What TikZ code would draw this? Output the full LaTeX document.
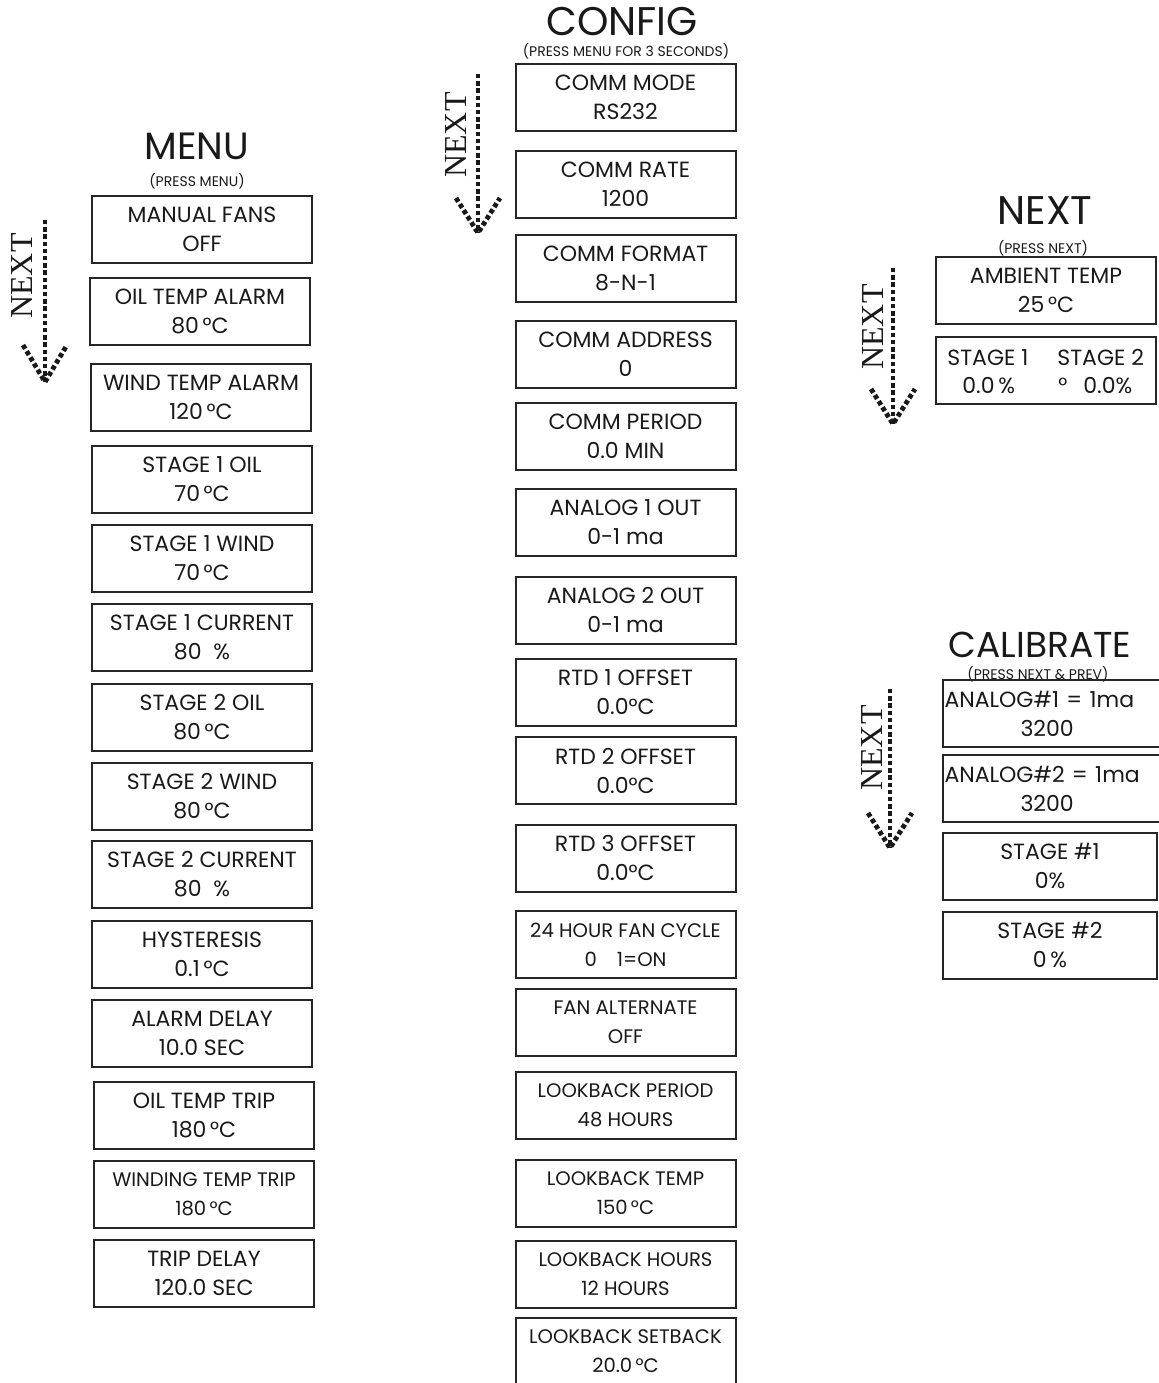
\documentclass[tikz,border=0pt]{standalone}
\usepackage{fontspec}
\setmainfont{Poppins}
\newfontfamily\labelfont{Liberation Serif}
\begin{document}
\begin{tikzpicture}[x=0.5pt, y=-0.5pt,
  menubox/.style={draw=black!85, line width=1pt, minimum width=110pt, minimum height=33.5pt,
    inner sep=0pt, align=center, text=black!90, font=\fontsize{11}{14.5}\selectfont},
  smallbox/.style={menubox, font=\fontsize{9.8}{14.5}\selectfont},
  boxtext/.style={inner sep=0pt, text=black!90, font=\fontsize{11}{14.5}\selectfont},
  title/.style={inner sep=0pt, text=black!90, font=\fontsize{20}{20}\selectfont},
  subtitle/.style={inner sep=0pt, text=black!90, font=\fontsize{7}{7}\selectfont},
  nextlabel/.style={rotate=90, inner sep=0pt, text=black!90, font=\labelfont\fontsize{16}{16}\selectfont},
  dotline/.style={black!90, line width=2.4pt, dash pattern=on 2.2pt off 1.4pt}
]
  \useasboundingbox (0,0) rectangle (1158,1383);

  % 1. MENU
  \node[title, font=\fontsize{19}{19}\selectfont] (menuT) at (197,146) {MENU};
  \node[subtitle] (menuS) at (197,181) {(PRESS MENU)};
  \node[menubox] (m1)  at (202,229.5)  {MANUAL FANS\\OFF};
  \node[menubox] (m2)  at (200,311)    {OIL TEMP ALARM\\80\,°C};
  \node[menubox] (m3)  at (201,397.5)  {WIND TEMP ALARM\\120\,°C};
  \node[menubox] (m4)  at (202,479.5)  {STAGE 1 OIL\\70\,°C};
  \node[menubox] (m5)  at (202,558.5)  {STAGE 1 WIND\\70\,°C};
  \node[menubox] (m6)  at (202,637.5)  {STAGE 1 CURRENT\\80~~\%};
  \node[menubox] (m7)  at (202,717)    {STAGE 2 OIL\\80\,°C};
  \node[menubox] (m8)  at (202,796)    {STAGE 2 WIND\\80\,°C};
  \node[menubox] (m9)  at (202,874.5)  {STAGE 2 CURRENT\\80~~\%};
  \node[menubox] (m10) at (202,954.5)  {HYSTERESIS\\0.1\,°C};
  \node[menubox] (m11) at (202,1033)   {ALARM DELAY\\10.0 SEC};
  \node[menubox] (m12) at (204,1115)   {OIL TEMP TRIP\\180\,°C};
  \node[smallbox] (m13) at (204,1194.5) {WINDING TEMP TRIP\\180\,°C};
  \node[menubox] (m14) at (204,1273.5) {TRIP DELAY\\120.0 SEC};

  % 2. CONFIG
  \node[title] (confT) at (622,22) {CONFIG};
  \node[subtitle] (confS) at (626,51) {(PRESS MENU FOR 3 SECONDS)};
  \node[menubox] (c1)  at (625.5,97)     {COMM MODE\\RS232};
  \node[menubox] (c2)  at (625.5,184)    {COMM RATE\\1200};
  \node[menubox] (c3)  at (625.5,268.5)  {COMM FORMAT\\8-N-1};
  \node[menubox] (c4)  at (625.5,354)    {COMM ADDRESS\\0};
  \node[menubox] (c5)  at (625.5,436)    {COMM PERIOD\\0.0 MIN};
  \node[menubox] (c6)  at (625.5,522)    {ANALOG 1 OUT\\0-1 ma};
  \node[menubox] (c7)  at (625.5,610)    {ANALOG 2 OUT\\0-1 ma};
  \node[menubox] (c8)  at (625.5,692)    {RTD 1 OFFSET\\0.0°C};
  \node[menubox] (c9)  at (625.5,770.5)  {RTD 2 OFFSET\\0.0°C};
  \node[menubox] (c10) at (625.5,858)    {RTD 3 OFFSET\\0.0°C};
  \node[smallbox] (c11) at (625.5,944.5)  {24 HOUR FAN CYCLE\\0\hspace{10pt}1=ON};
  \node[smallbox] (c12) at (625.5,1022.5) {FAN ALTERNATE\\OFF};
  \node[smallbox] (c13) at (625.5,1105.5) {LOOKBACK PERIOD\\48 HOURS};
  \node[smallbox] (c14) at (625.5,1193.5) {LOOKBACK TEMP\\150\,°C};
  \node[smallbox] (c15) at (625.5,1274)   {LOOKBACK HOURS\\12 HOURS};
  \node[smallbox] (c16) at (625.5,1351.5) {LOOKBACK SETBACK\\20.0\,°C};

  % 3. NEXT
  \node[title] (nextT) at (1045,211) {NEXT};
  \node[subtitle] (nextS) at (1043,248) {(PRESS NEXT)};
  \node[menubox] (n1) at (1046,290.5) {AMBIENT TEMP\\25\,°C};
  \node[menubox] (n2) at (1046,370.5) {};
  \node[boxtext, anchor=base west] (n2a) at (947,365)  {STAGE 1};
  \node[boxtext, anchor=base west] (n2b) at (1057,365) {STAGE 2};
  \node[boxtext, anchor=base west] (n2c) at (962,393)  {0.0\,\%};
  \node[boxtext, anchor=base west] (n2d) at (1058,393) {°\hspace{8pt}0.0\%};

  % 4. CALIBRATE
  \node[title, font=\fontsize{18}{18}\selectfont] (calT) at (1040,645) {CALIBRATE};
  \node[subtitle] (calS) at (1038,674) {(PRESS NEXT \& PREV)};
  \node[menubox, align=left, text width=113pt, inner xsep=1pt] (k1) at (1057.5,713.5) {ANALOG\#1 = 1ma\\\hspace*{38pt}3200};
  \node[menubox, align=left, text width=113pt, inner xsep=1pt] (k2) at (1057.5,788.5) {ANALOG\#2 = 1ma\\\hspace*{38pt}3200};
  \node[menubox, minimum width=107pt] (k3) at (1050,866) {STAGE \#1\\0\%};
  \node[menubox, minimum width=107pt] (k4) at (1050,945) {STAGE \#2\\0\,\%};

  % 5. NEXT arrows
  \node[nextlabel] (lblM) at (22,276)  {NEXT};
  \coordinate (mTop) at (45,220);
  \coordinate (mTip) at (45,382);
  \draw[dotline] (mTop) -- (mTip);
  \draw[dotline] (23,345) -- (mTip) -- (67,345);

  \node[nextlabel] (lblC) at (456,135) {NEXT};
  \coordinate (cTop) at (478,74);
  \coordinate (cTip) at (478,233);
  \draw[dotline] (cTop) -- (cTip);
  \draw[dotline] (456,198) -- (cTip) -- (500,198);

  \node[nextlabel] (lblN) at (873,327) {NEXT};
  \coordinate (nTop) at (893,268);
  \coordinate (nTip) at (893,424);
  \draw[dotline] (nTop) -- (nTip);
  \draw[dotline] (871,389) -- (nTip) -- (915,389);

  \node[nextlabel] (lblK) at (872,748) {NEXT};
  \coordinate (kTop) at (890,689);
  \coordinate (kTip) at (890,848);
  \draw[dotline] (kTop) -- (kTip);
  \draw[dotline] (868,813) -- (kTip) -- (912,813);

\end{tikzpicture}
\end{document}
